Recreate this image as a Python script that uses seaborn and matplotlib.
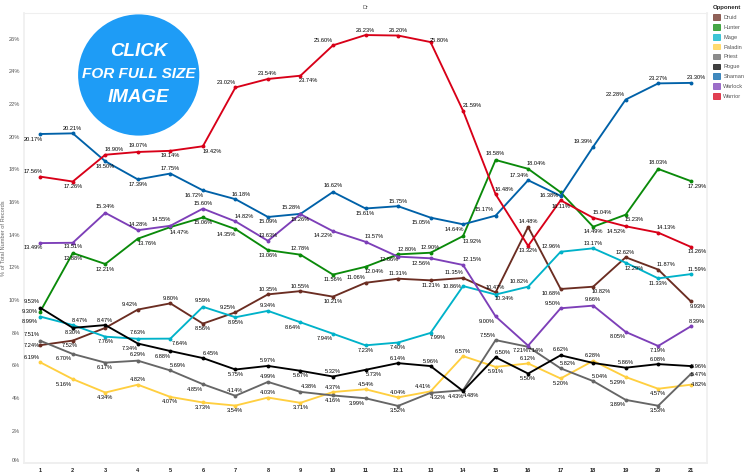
import pandas as pd
import matplotlib
matplotlib.use("Agg")
import matplotlib.pyplot as plt
import seaborn as sns
from matplotlib.patches import Circle, Patch
from matplotlib.ticker import FixedLocator, FuncFormatter
from matplotlib.transforms import IdentityTransform

# Values
sections = ["1", "2", "3", "4", "5", "6", "7", "8", "9", "10", "11", "12.1",
            "13", "14", "15", "16", "17", "18", "19", "20", "21"]
opponents = ["Druid", "Hunter", "Mage", "Paladin", "Priest", "Rogue", "Shaman", "Warlock", "Warrior"]

druid = [7.24, 7.52, 8.30, 9.42, 9.80, 8.56, 9.25, 10.35, 10.55, 10.21, 11.06, 11.31,
         11.21, 11.35, 10.47, 14.48, 10.68, 10.82, 12.62, 11.87, 9.93]
hunter = [9.30, 12.88, 12.21, 13.76, 14.47, 15.06, 14.35, 13.06, 12.78, 11.56, 12.04, 12.80,
          12.90, 13.92, 18.58, 18.04, 16.60, 14.49, 15.23, 18.03, 17.29]
mage = [8.99, 8.47, 7.76, 7.63, 7.64, 9.59, 8.95, 9.34, 8.64, 7.94, 7.23, 7.40,
        7.99, 10.86, 10.34, 10.82, 12.96, 13.17, 12.29, 11.33, 11.59]
paladin = [6.19, 5.16, 4.34, 4.82, 4.07, 3.73, 3.54, 4.03, 3.71, 4.37, 4.54, 4.04,
           4.41, 6.57, 5.91, 6.12, 5.20, 6.28, 5.29, 4.57, 4.82]
priest = [7.51, 6.70, 6.17, 6.29, 5.69, 4.85, 4.14, 4.99, 4.38, 4.16, 3.99, 3.52,
          4.32, 4.48, 7.55, 7.14, 5.82, 5.04, 3.89, 3.53, 5.47]
rogue = [9.53, 8.30, 8.47, 7.34, 6.88, 6.45, 5.75, 5.97, 5.67, 5.32, 5.73, 6.14,
         5.96, 4.43, 6.50, 5.50, 6.62, 6.15, 5.86, 6.08, 5.96]
shaman = [20.17, 20.21, 18.50, 17.39, 17.75, 16.72, 16.18, 15.09, 15.28, 16.62, 15.61, 15.75,
          15.05, 14.64, 15.17, 17.34, 16.38, 19.39, 22.28, 23.27, 23.30]
warlock = [13.49, 13.51, 15.34, 14.28, 14.55, 15.60, 14.82, 13.63, 15.26, 14.22, 13.57, 12.66,
           12.56, 12.15, 9.00, 7.21, 9.50, 9.66, 8.05, 7.19, 8.39]
warrior = [17.56, 17.26, 18.90, 19.07, 19.14, 19.42, 23.02, 23.54, 23.74, 25.60, 26.23, 26.20,
           25.80, 21.59, 16.48, 13.32, 16.11, 15.04, 14.52, 14.13, 13.26]
series = [druid, hunter, mage, paladin, priest, rogue, shaman, warlock, warrior]

colors = ["#6b2d22", "#0a8a0a", "#00b2c9", "#ffcf40", "#666666", "#000000", "#0061a8", "#7d3fb8", "#d80018"]

# Where each value label sits relative to its point, in pixels (None = not labelled)
druid_off = [(-8, 0), (-3, -5), None, (-8, 5), (0, 5), (0, -5), (-8, 5), (0, 5), (0, 5), (0, -5), (-9, 5),
             (0, 5), (0, -5), (-9, 6), (0, 5), (0, 5), (-9, -5), (8, -5), (0, 5), (8, 5), (7, -5)]
hunter_off = [(-10, 0), (0, -5), (0, -5), (9, -5), (9, -5), (0, -5), (-9, -5), (0, -5), (0, 6), (0, -5), (9, -5),
              (9, 5), (0, 5), (9, -5), (0, 6), (8, 5), None, (0, -5), (9, -5), (0, 6), (6, -5)]
mage_off = [(-10, -5), (7, 5), (0, -5), (0, 6), (9, -5), (0, 6), (0, -5), (0, 5), (-8, -5), (-8, -5), (0, -5),
            (0, -5), (7, -5), (-11, 0), (9, -4), (-9, 5), (-9, 5), (0, 5), (9, -6), (0, -5), (6, 5)]
paladin_off = [(-8, 5), (-9, -5), (0, -5), (0, 5), (0, -5), (0, -5), (0, -5), (0, 5), (0, -5), (0, 5), (0, 5),
               (0, 5), (-8, 5), (0, 5), (0, -5), (0, 5), (0, -5), (0, 5), (-8, -5), (0, -5), (8, 0)]
priest_off = [(-8, 6), (-9, -5), (0, -5), (0, 6), (8, 5), (-8, -5), (0, 5), (0, 5), (8, 5), (0, -5), (-9, -5),
              (0, -5), (7, -5), (8, -5), (-8, 5), (8, -4), (7, 5), (7, 5), (-8, -5), (0, -5), (8, 0)]
rogue_off = [(-8, 6), (0, -5), (0, 5), (-8, -5), (-8, -5), (8, 5), (0, -5), (0, 5), (0, -5), (0, 5), (8, -5),
             (0, 5), (0, 5), (-7, -5), (7, 5), (0, -5), (0, 6), None, (0, 5), (0, 5), (8, 0)]
shaman_off = [(-7, -5), (0, 5), (0, -5), (0, -5), (0, 5), (-9, -5), (6, 5), (0, -5), (-9, 6), (0, 6), (0, -5),
              (0, 5), (-9, -5), (-9, -5), (-11, 6), (-9, 5), (-11, 0), (-10, 5), (-10, 5), (0, 5), (6, 5)]
warlock_off = [(-7, -4), (0, -4), (0, 6), (0, 6), (-9, 6), (0, 5), (9, 5), (0, 5), (0, -5), (-10, -4), (9, 5),
               (-9, -3), (-9, -5), (9, 5), (-9, -5), (-7, -5), (-8, 5), (0, 6), (-8, -5), (0, -5), (6, 5)]
warrior_off = [(-7, 5), (0, -5), (9, 5), (0, 6), (0, -5), (9, -5), (-9, 5), (0, 5), (8, -5), (-10, 5), (0, 5),
               (0, 5), (9, 2), (9, 5), (9, 5), (0, -5), (0, -6), (9, 5), (-9, -5), (8, 5), (6, -5)]
offsets = [druid_off, hunter_off, mage_off, paladin_off, priest_off, rogue_off, shaman_off, warlock_off, warrior_off]

df = pd.DataFrame({
    "Section": sections * len(opponents),
    "Opponent": [o for o in opponents for _ in sections],
    "Share": [v for s in series for v in s],
})

sns.set_theme(style="white")
plt.rcParams["font.family"] = ["Liberation Sans", "DejaVu Sans"]

fig = plt.figure(figsize=(7.5, 4.75), dpi=100)
ax = fig.add_axes([24 / 750, (475 - 463.4) / 475, (707 - 24) / 750, (463.4 - 13) / 475])

sns.lineplot(data=df, x="Section", y="Share", hue="Opponent", palette=colors, hue_order=opponents,
             estimator=None, sort=False, marker="o", markersize=2.8, markeredgewidth=0,
             linewidth=1.35, legend=False, ax=ax)

ax.set_xlim(-0.5, 20.5)
ax.set_ylim(0, 27.58)

# Value labels
for values, offs in zip(series, offsets):
    for i, (v, off) in enumerate(zip(values, offs)):
        if off is None:
            continue
        ax.annotate(f"{v:.2f}%", (i, v), xytext=off, textcoords="offset pixels", ha="center",
                    va="center", fontsize=4.1, color="#000000", zorder=5)

# Axes look
for side in ax.spines:
    ax.spines[side].set_color("#efefef")
    ax.spines[side].set_linewidth(0.8)
ax.spines["bottom"].set_linewidth(1.4)
ax.spines["left"].set_linewidth(1.2)
ax.spines["right"].set_linewidth(1.2)

ax.yaxis.set_major_locator(FixedLocator(range(0, 27, 2)))
ax.yaxis.set_major_formatter(FuncFormatter(lambda y, _: f"{y:.0f}%"))
ax.tick_params(axis="y", length=0, pad=3, labelsize=4.1, labelcolor="#555555")
ax.get_yticklabels()[0].set_verticalalignment("bottom")

ax.tick_params(axis="x", which="major", length=0, pad=3, labelsize=4.1, labelcolor="#222222")
for lab in ax.get_xticklabels():
    lab.set_fontweight("bold")
ax.xaxis.set_minor_locator(FixedLocator([i - 0.5 for i in range(22)]))
ax.tick_params(axis="x", which="minor", length=2, width=0.5, color="#d8d8d8")

ax.set_xlabel("")
ax.set_ylabel("% of Total Number of Records", fontsize=4.1, color="#666666", labelpad=3)
ax.yaxis.set_label_coords(-17.5 / 683, 0.5)
ax.set_title("Dr", fontsize=4.1, color="#555555", pad=3)

# Legend
handles = [Patch(facecolor=c, edgecolor=c, alpha=0.75, linewidth=0.6, label=o) for c, o in zip(colors, opponents)]
leg = fig.legend(handles=handles, title="Opponent", loc="upper left", bbox_to_anchor=(712 / 750, 1 - 4 / 475),
                 frameon=False, fontsize=4.1, title_fontsize=4.3, handlelength=1.25, handleheight=1.15,
                 handletextpad=0.55, labelspacing=0.72, borderpad=0.2, borderaxespad=0, alignment="left")
leg.get_title().set_fontweight("bold")
for t in leg.get_texts():
    t.set_color("#555555")

# Blue badge
fig.add_artist(Circle((138.7, 475 - 75), 60.6, facecolor="#1e9cf6", edgecolor="none", transform=IdentityTransform()))
badge_lines = ["CLICK", "FOR FULL SIZE", "IMAGE"]
badge_y = [52, 74.5, 98]
badge_size = [13.5, 11, 13.5]
for line, y, size in zip(badge_lines, badge_y, badge_size):
    fig.text(138.7 / 750, 1 - y / 475, line, ha="center", va="center", color="white", fontsize=size,
             fontweight="bold", fontstyle="italic", family="Liberation Sans")

fig.savefig("out.png", dpi=100)
